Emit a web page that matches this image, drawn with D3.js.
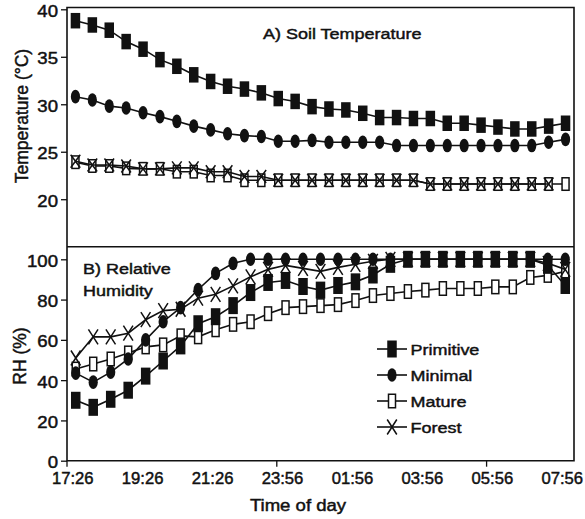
<!DOCTYPE html>
<html>
<head>
<meta charset="utf-8">
<script src="https://cdn.jsdelivr.net/npm/d3@7"></script>
<style>
  html, body { margin: 0; padding: 0; background: #fff; }
  svg { display: block; }
  text { font-family: "Liberation Sans", Arial, Helvetica, sans-serif; fill: #111; stroke: #111; stroke-width: 0.45px; }
</style>
</head>
<body>
<svg id="chart" width="585" height="519"></svg>
<script>
// ---------- DATA ----------
// Panel A: soil temperature, 30 half-hour readings
const tempTimes = ["17:26","17:56","18:26","18:56","19:26","19:56","20:26","20:56","21:26","21:56",
  "22:26","22:56","23:26","23:56","00:26","00:56","01:26","01:56","02:26","02:56",
  "03:26","03:56","04:26","04:56","05:26","05:56","06:26","06:56","07:26","07:56"];
const tempPrimitive = [38.8, 38.35, 37.8, 36.6, 35.8, 34.7, 34.0, 33.1, 32.4, 31.9,
  31.6, 31.2, 30.6, 30.3, 29.75, 29.5, 29.4, 29.05, 28.6, 28.6,
  28.5, 28.5, 28.0, 28.0, 27.8, 27.6, 27.4, 27.4, 27.7, 28.0];
const tempMinimal = [30.8, 30.45, 29.8, 29.6, 29.1, 28.7, 28.2, 27.7, 27.3, 26.9,
  26.7, 26.6, 26.1, 26.1, 26.2, 26.0, 26.0, 26.0, 26.0, 25.65,
  25.65, 25.65, 25.65, 25.65, 25.65, 25.65, 25.65, 25.65, 26.0, 26.3];
const tempMature = [23.9, 23.5, 23.5, 23.25, 23.2, 23.2, 22.9, 22.9, 22.5, 22.5,
  22.0, 22.0, 22.0, 22.0, 22.0, 22.0, 22.0, 22.0, 22.0, 22.0,
  22.0, 21.6, 21.6, 21.6, 21.6, 21.6, 21.6, 21.6, 21.6, 21.6];
const tempForest = [24.0, 23.6, 23.6, 23.5, 23.2, 23.2, 23.3, 23.3, 22.9, 22.9,
  22.4, 22.4, 22.0, 22.0, 22.0, 22.0, 22.0, 22.0, 22.0, 22.0,
  22.0, 21.6, 21.6, 21.6, 21.6, 21.6, 21.6, 21.6, 21.6, null];

// Panel B: relative humidity, 29 readings
const rhTimes = ["17:26","17:56","18:26","18:56","19:26","19:56","20:26","20:56","21:26","21:56",
  "22:26","22:56","23:56","00:26","00:56","01:26","01:56","02:26","02:56","03:26",
  "03:56","04:26","04:56","05:26","05:56","06:26","06:56","07:26","07:56"];
const rhPrimitive = [30, 26.5, 30.5, 35, 42, 49.5, 57, 68, 71.5, 77,
  83.5, 88.5, 89.5, 86.5, 84.7, 87, 88.8, 92.2, 97.5, 100,
  100, 100, 100, 100, 100, 100, 100, 97, 87];
const rhMinimal = [43.5, 39, 44, 50.5, 60, 69, 76, 85, 93, 98,
  100, 100, 100, 100, 100, 100, 100, 100, 100, 100,
  100, 100, 100, 100, 100, 100, 100, 100, 100];
const rhMature = [45.5, 48, 50.5, 53.5, 56.5, 57.5, 62, 61.5, 65, 67.7,
  69, 73, 76, 76.5, 77, 77.5, 79.5, 82, 83, 84,
  84.7, 85.5, 85.5, 85.5, 86.3, 86.3, 91, 92, 94];
const rhForest = [51, 61.5, 61.5, 63.3, 70, 74.5, 75.2, 80.7, 82.6, 86.8,
  91.3, 95, 97, 95.5, 94, 96, 97.5, 99, 100, 100,
  100, 100, 100, 100, 100, 100, 100, 98, 95];

const tempTicks = [20, 25, 30, 35, 40];
const rhTicks = [0, 20, 40, 60, 80, 100];
const xLabelTimes = ["17:26","19:26","21:26","23:56","01:56","03:56","05:56","07:56"];
const xTickMarkTimes = ["17:26","23:56","05:56"];
const seriesNames = ["Primitive", "Minimal", "Mature", "Forest"];

// ---------- LAYOUT ----------
const L = 67, R = 574, T = 7.5, MID = 246.7, B = 460.7;
const INK = "#111";
const SX = 1.16; // horizontal text stretch seen in the reference
const svg = d3.select("#chart");

const xTemp = d3.scalePoint().domain(tempTimes).range([L, R]).padding(0.5);
const xRHBand = d3.scaleBand().domain(rhTimes).range([L, R]);
const xRH = d3.scalePoint().domain(rhTimes).range([L, R]).padding(0.5);
const yTemp = d3.scaleLinear().domain([15, 40]).range([MID, 9.3]);
const yRH = d3.scaleLinear().domain([0, 100]).range([B, 259.3]);

// ---------- MARKERS ----------
function drawMarker(g, type, x, y, big) {
  if (type === "Primitive") {
    const w = 9.5, h = big ? 17 : 15.5;
    g.append("rect").attr("x", x - w/2).attr("y", y - h/2).attr("width", w).attr("height", h)
      .attr("fill", INK);
  } else if (type === "Minimal") {
    g.append("ellipse").attr("cx", x).attr("cy", y).attr("rx", 4.6).attr("ry", 6.8).attr("fill", INK);
  } else if (type === "Mature") {
    const w = 7, h = big ? 13.5 : 12.5;
    g.append("rect").attr("x", x - w/2).attr("y", y - h/2).attr("width", w).attr("height", h)
      .attr("fill", "#fff").attr("stroke", INK).attr("stroke-width", 1.5);
  } else if (type === "Forest") {
    const w = 4.8, h = big ? 7.5 : 6.5;
    g.append("path").attr("d", `M${x-w},${y-h}L${x+w},${y+h}M${x-w},${y+h}L${x+w},${y-h}`)
      .attr("stroke", INK).attr("stroke-width", 1.5).attr("fill", "none");
  }
}

function drawSeries(g, xs, ys, cats, vals, type, big) {
  const pts = cats.map((c, i) => ({ c, v: vals[i] }));
  const line = d3.line().defined(d => d.v != null).x(d => xs(d.c)).y(d => ys(d.v));
  g.append("path").datum(pts).attr("d", line).attr("fill", "none")
    .attr("stroke", INK).attr("stroke-width", 1.6);
  const mg = g.append("g");
  pts.filter(d => d.v != null).forEach(d => drawMarker(mg, type, xs(d.c), ys(d.v), big));
}

function stretchText(sel, x, y, anchor, size, sx) {
  sel.attr("x", 0).attr("y", 0)
    .attr("transform", `translate(${x},${y}) scale(${sx || SX},1)`)
    .attr("text-anchor", anchor)
    .style("font-size", size + "px");
  return sel;
}

// ---------- PANEL A ----------
const gA = svg.append("g");
drawSeries(gA, xTemp, yTemp, tempTimes, tempMature, "Mature", false);
drawSeries(gA, xTemp, yTemp, tempTimes, tempForest, "Forest", false);
drawSeries(gA, xTemp, yTemp, tempTimes, tempMinimal, "Minimal", false);
drawSeries(gA, xTemp, yTemp, tempTimes, tempPrimitive, "Primitive", false);

// ---------- PANEL B ----------
const gB = svg.append("g");
drawSeries(gB, xRH, yRH, rhTimes, rhMature, "Mature", true);
drawSeries(gB, xRH, yRH, rhTimes, rhPrimitive, "Primitive", true);
drawSeries(gB, xRH, yRH, rhTimes, rhForest, "Forest", true);
drawSeries(gB, xRH, yRH, rhTimes, rhMinimal, "Minimal", true);

// ---------- FRAME ----------
const frame = svg.append("g").attr("stroke", INK).attr("stroke-width", 1.6).attr("fill", "none");
frame.append("path").attr("d", `M${L},${T}H${R}V${B}H${L}Z`);
frame.append("line").attr("x1", L).attr("x2", R).attr("y1", MID).attr("y2", MID);

// ---------- Y AXES ----------
function yAxis(scale, ticks) {
  const ax = svg.append("g").attr("transform", `translate(${L},0)`)
    .call(d3.axisLeft(scale).tickValues(ticks).tickSize(6).tickPadding(3).tickSizeOuter(0));
  ax.select(".domain").remove();
  ax.selectAll(".tick line").attr("stroke", INK).attr("stroke-width", 1.3);
  ax.selectAll(".tick text").each(function () {
    const t = d3.select(this);
    stretchText(t, -9, 1.5, "end", 16).attr("dy", "0.35em");
  }).style("font-family", '"Liberation Sans", Arial, sans-serif').attr("fill", INK);
  return ax;
}
yAxis(yTemp, tempTicks);
yAxis(yRH, rhTicks);

// ---------- X AXIS ----------
const xa = svg.append("g");
xTickMarkTimes.forEach(t => {
  const x = xRHBand(t);
  xa.append("line").attr("x1", x).attr("x2", x).attr("y1", B).attr("y2", B + 6)
    .attr("stroke", INK).attr("stroke-width", 1.3);
});
xLabelTimes.forEach(t => {
  stretchText(xa.append("text").text(t), xRH(t) - 3, 484, "middle", 16, 1.04);
});

// ---------- TITLES ----------
stretchText(svg.append("text").text("Time of day"), 298, 511, "middle", 16);
svg.append("text").text("Temperature (°C)")
  .attr("transform", "translate(22,116) rotate(-90)")
  .attr("text-anchor", "middle").attr("dy", "0.35em").style("font-size", "17.5px");
svg.append("text").text("RH (%)")
  .attr("transform", "translate(20,356) rotate(-90)")
  .attr("text-anchor", "middle").attr("dy", "0.35em").style("font-size", "17.5px");

stretchText(svg.append("text").text("A) Soil Temperature"), 263, 39, "start", 15.5);
stretchText(svg.append("text").text("B) Relative"), 83, 274, "start", 15.5);
stretchText(svg.append("text").text("Humidity"), 83, 296, "start", 15.5);

// ---------- LEGEND ----------
const lg = svg.append("g");
const legendY0 = 349, legendDY = 26;
seriesNames.forEach((name, i) => {
  const y = legendY0 + i * legendDY;
  lg.append("line").attr("x1", 377).attr("x2", 407).attr("y1", y).attr("y2", y)
    .attr("stroke", INK).attr("stroke-width", 1.6);
  drawMarker(lg, name, 392, y, true);
  stretchText(lg.append("text").text(name), 410.5, y + 6, "start", 15.5);
});
</script>
</body>
</html>
